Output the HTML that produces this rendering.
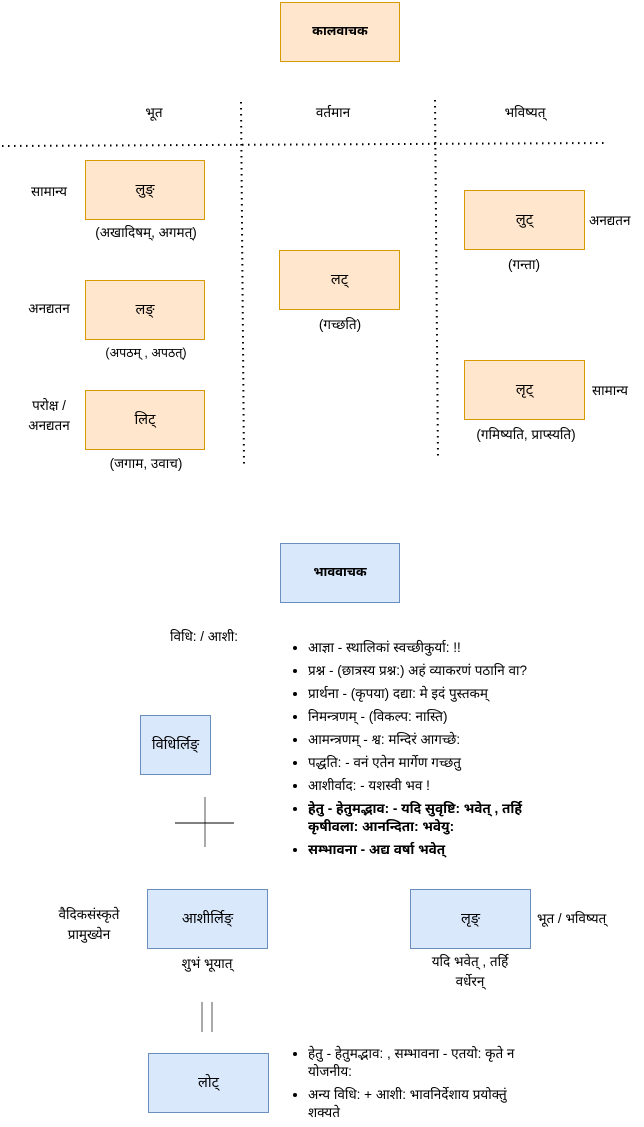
<!DOCTYPE html>
<html><head><meta charset="utf-8"><style>
body{margin:0;width:644px;height:1126px;background:#fff;position:relative;font-family:"Liberation Sans","Noto Sans Devanagari","Lohit Devanagari",sans-serif;font-size:13.5px;color:#000;overflow:hidden}
.a{position:absolute;white-space:nowrap}
.c{transform:translateX(-50%);text-align:center}
.box{position:absolute;display:flex;align-items:center;justify-content:center;box-sizing:border-box;font-size:14.5px}
.o{background:#ffe6cc;border:1px solid #d79b00}
.b{background:#dae8fc;border:1px solid #6c8ebf}
ul{position:absolute;margin:0;padding-left:20px;font-size:13.5px}
li{margin-bottom:5px;line-height:18px;white-space:nowrap}
</style></head><body>
<svg width="644" height="1126" style="position:absolute;left:0;top:0">
<line x1="2" y1="146" x2="605" y2="143" stroke="#000" stroke-width="2" stroke-dasharray="1.5,4.5"/>
<line x1="241" y1="102" x2="244" y2="465" stroke="#000" stroke-width="2" stroke-dasharray="1.5,4.5"/>
<line x1="435" y1="100" x2="438" y2="460" stroke="#000" stroke-width="2" stroke-dasharray="1.5,4.5"/>
<line x1="205" y1="797" x2="205" y2="847" stroke="#555" stroke-width="1"/>
<line x1="175" y1="823" x2="234" y2="823" stroke="#000" stroke-width="1"/>
<line x1="202" y1="1002" x2="202" y2="1032" stroke="#555" stroke-width="1"/>
<line x1="212" y1="1002" x2="212" y2="1032" stroke="#555" stroke-width="1"/>
</svg>
<div class="box o" style="left:280px;top:2px;width:120px;height:60px;font-weight:bold;font-size:13px">कालवाचक</div>
<div class="a c" style="left:154px;top:105px">भूत</div>
<div class="a c" style="left:333px;top:105px">वर्तमान</div>
<div class="a c" style="left:525px;top:105px">भविष्यत्</div>

<div class="box o" style="left:85px;top:160px;width:120px;height:60px">लुङ्</div>
<div class="a c" style="left:146px;top:225px">(अखादिषम्, अगमत्)</div>
<div class="a c" style="left:49px;top:184px">सामान्य</div>
<div class="box o" style="left:85px;top:280px;width:120px;height:60px">लङ्</div>
<div class="a c" style="left:146px;top:346px;font-size:12.5px">(अपठम्  , अपठत्)</div>
<div class="a c" style="left:49px;top:301px">अनद्यतन</div>
<div class="box o" style="left:85px;top:390px;width:120px;height:60px">लिट्</div>
<div class="a c" style="left:146px;top:456px">(जगाम, उवाच)</div>
<div class="a c" style="left:49px;top:396px;line-height:20px">परोक्ष /<br>अनद्यतन</div>

<div class="box o" style="left:279px;top:250px;width:121px;height:60px">लट्</div>
<div class="a c" style="left:340px;top:317px">(गच्छति)</div>

<div class="box o" style="left:464px;top:190px;width:121px;height:60px">लुट्</div>
<div class="a c" style="left:524px;top:257px">(गन्ता)</div>
<div class="a" style="left:589px;top:213px">अनद्यतन</div>
<div class="box o" style="left:464px;top:360px;width:121px;height:60px">लृट्</div>
<div class="a c" style="left:526px;top:427px">(गमिष्यति, प्राप्स्यति)</div>
<div class="a" style="left:592px;top:383px">सामान्य</div>

<div class="box b" style="left:280px;top:543px;width:120px;height:60px;font-weight:bold;font-size:13px">भाववाचक</div>
<div class="a c" style="left:204px;top:629px">विधि: / आशी:</div>
<ul style="left:288px;top:639px;width:350px">
<li>आज्ञा - स्थालिकां स्वच्छीकुर्या: !!</li>
<li>प्रश्न - (छात्रस्य प्रश्न:) अहं व्याकरणं पठानि वा?</li>
<li>प्रार्थना - (कृपया) दद्या: मे इदं पुस्तकम्</li>
<li>निमन्त्रणम् - (विकल्प: नास्ति)</li>
<li>आमन्त्रणम् - श्व: मन्दिरं आगच्छे:</li>
<li>पद्धति: - वनं एतेन मार्गेण गच्छतु</li>
<li>आशीर्वाद: - यशस्वी भव !</li>
<li style="font-weight:bold;line-height:18px">हेतु - हेतुमद्भाव: - यदि सुवृष्टि:  भवेत् , तर्हि<br>कृषीवला: आनन्दिता: भवेयु:</li>
<li style="font-weight:bold">सम्भावना - अद्य वर्षा भवेत्</li>
</ul>
<div class="box b" style="left:140px;top:715px;width:71px;height:60px">विधिर्लिङ्</div>

<div class="box b" style="left:147px;top:889px;width:121px;height:60px">आशीर्लिङ्</div>
<div class="a c" style="left:207px;top:956px">शुभं भूयात्</div>
<div class="a c" style="left:89px;top:905px;line-height:20px">वैदिकसंस्कृते<br>प्रामुख्येन</div>
<div class="box b" style="left:410px;top:889px;width:121px;height:60px">लृङ्</div>
<div class="a c" style="left:470px;top:952px;line-height:20px">यदि भवेत् , तर्हि<br>वर्धेरन्</div>
<div class="a" style="left:537px;top:911px">भूत / भविष्यत्</div>

<div class="box b" style="left:148px;top:1053px;width:121px;height:60px">लोट्</div>
<ul style="left:288px;top:1045px;width:300px">
<li>हेतु - हेतुमद्भाव: , सम्भावना - एतयो: कृते न<br>योजनीय:</li>
<li>अन्य विधि: + आशी:  भावनिर्देशाय प्रयोक्तुं<br>शक्यते</li>
</ul>
</body></html>
